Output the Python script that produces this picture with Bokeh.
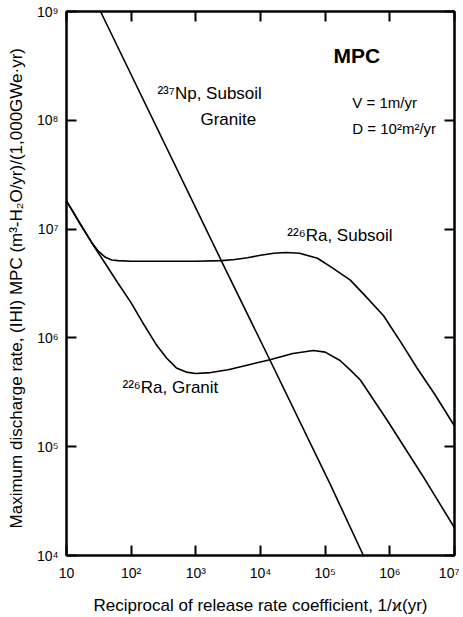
from bokeh.plotting import figure
from bokeh.models import Range1d, FixedTicker, LogAxis, Label
from bokeh.embed import file_html
from bokeh.resources import INLINE

# ---- data ----
subsoil_x = [10, 15.8, 25, 31.6, 40, 50, 63, 100, 316, 1000, 2500, 4000, 6300, 1.0e4, 1.6e4,
             2.5e4, 4.0e4, 7.6e4, 1.26e5, 2.45e5, 4.0e5, 8.0e5, 1.6e6, 2.6e6, 5.0e6, 1.0e7]
subsoil_y = [1.82e7, 1.15e7, 7.4e6, 6.2e6, 5.5e6, 5.2e6, 5.13e6, 5.07e6, 5.07e6, 5.07e6, 5.13e6,
             5.25e6, 5.45e6, 5.75e6, 6.0e6, 6.1e6, 6.0e6, 5.4e6, 4.45e6, 3.4e6, 2.5e6, 1.6e6,
             8.5e5, 5.35e5, 3.0e5, 1.55e5]

granit_x = [10, 15.8, 26, 40, 63, 100, 158, 250, 355, 500, 710, 1000, 1700, 3160, 6900, 1.4e4,
            3.16e4, 6.6e4, 1.0e5, 1.7e5, 2.5e5, 3.5e5, 9.1e5, 3.16e6, 1.0e7]
granit_y = [1.82e7, 1.15e7, 7.1e6, 4.8e6, 3.16e6, 2.1e6, 1.32e6, 8.5e5, 6.5e5, 5.3e5, 4.85e5,
            4.7e5, 4.8e5, 5.1e5, 5.7e5, 6.3e5, 7.2e5, 7.65e5, 7.4e5, 6.2e5, 5.0e5, 4.1e5,
            1.75e5, 5.5e4, 1.8e4]

np_x = [33.6, 2570, 1.41e4, 1.2e5, 3.9e5]
np_y = [1.0e9, 4.9e6, 6.2e5, 4.5e4, 1.0e4]

x_ticks = [10, 100, 1000, 10**4, 10**5, 10**6, 10**7]
x_tick_labels = ["10", "10²", "10³", "10⁴", "10⁵", "10⁶", "10⁷"]
y_ticks = [10**4, 10**5, 10**6, 10**7, 10**8, 10**9]
y_tick_labels = ["10⁴", "10⁵", "10⁶", "10⁷", "10⁸", "10⁹"]

FONT = "Liberation Sans"

p = figure(x_axis_type="log", y_axis_type="log",
           x_range=Range1d(10, 1e7), y_range=Range1d(1e4, 1e9),
           output_backend="svg", toolbar_location=None,
           frame_width=388, frame_height=544,
           min_border_left=66, min_border_right=5, min_border_top=11, min_border_bottom=60)
p.xgrid.visible = False
p.ygrid.visible = False
p.background_fill_color = "white"
p.border_fill_color = "white"
p.outline_line_color = "black"
p.outline_line_width = 2

for ax, ticks, labels in ((p.xaxis[0], x_ticks, x_tick_labels), (p.yaxis[0], y_ticks, y_tick_labels)):
    ax.ticker = FixedTicker(ticks=ticks)
    ax.major_label_overrides = {t: l for t, l in zip(ticks, labels)}
    ax.major_tick_in = 10
    ax.major_tick_out = 0
    ax.major_tick_line_width = 2
    ax.minor_tick_line_color = None
    ax.axis_line_width = 2
    ax.major_label_text_font = FONT
    ax.major_label_text_font_size = "14px"
    ax.major_label_text_color = "black"
    ax.axis_label_text_font = FONT
    ax.axis_label_text_font_size = "17px"
    ax.axis_label_text_font_style = "normal"
    ax.axis_label_text_color = "black"

p.xaxis[0].major_label_standoff = 9
p.yaxis[0].major_label_standoff = 8
p.xaxis[0].axis_label = "Reciprocal of release rate coefficient, 1/ϰ(yr)"
p.xaxis[0].axis_label_standoff = 12
p.yaxis[0].axis_label = "Maximum discharge rate, (IHI) MPC   (m³-H₂O/yr)/(1,000GWe·yr)"
p.yaxis[0].axis_label_standoff = 8

# mirror ticks on top and right (labels hidden)
top = LogAxis(ticker=FixedTicker(ticks=x_ticks), major_label_text_font_size="1px",
              major_label_text_color=None,
              major_tick_in=10, major_tick_out=0, major_tick_line_width=2,
              minor_tick_line_color=None, axis_line_width=2, major_label_standoff=0)
right = LogAxis(ticker=FixedTicker(ticks=y_ticks), major_label_text_font_size="1px",
                major_label_text_color=None,
                major_tick_in=10, major_tick_out=0, major_tick_line_width=2,
                minor_tick_line_color=None, axis_line_width=2, major_label_standoff=0)
p.add_layout(top, "above")
p.add_layout(right, "right")

# curves
p.line(np_x, np_y, line_color="black", line_width=1.6)
p.line(subsoil_x, subsoil_y, line_color="black", line_width=1.6)
p.line(granit_x, granit_y, line_color="black", line_width=1.6)

def lab(x, y, text, size="17px", style="normal"):
    p.add_layout(Label(x=x, y=y, text=text, text_font=FONT, text_font_size=size,
                       text_font_style=style, text_color="black",
                       text_align="left", text_baseline="middle"))

lab(1.34e5, 3.94e8, "MPC", size="21px", style="bold")
lab(255, 1.76e8, "²³⁷Np, Subsoil")
lab(1178, 1.02e8, "Granite")
lab(2.63e5, 1.46e8, "V = 1m/yr", size="15px")
lab(2.63e5, 8.4e7, "D = 10²m²/yr", size="15px")
lab(2.6e4, 8.7e6, "²²⁶Ra, Subsoil")
lab(73.5, 3.5e5, "²²⁶Ra, Granit")

open("out.html", "w").write(file_html(p, INLINE))
